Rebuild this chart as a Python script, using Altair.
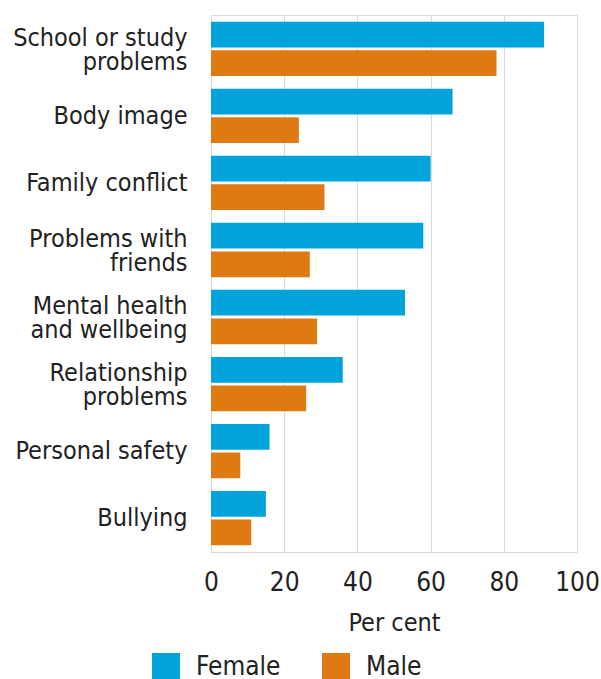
import altair as alt
import pandas as pd

categories = [
    "School or study|problems",
    "Body image",
    "Family conflict",
    "Problems with|friends",
    "Mental health|and wellbeing",
    "Relationship|problems",
    "Personal safety",
    "Bullying",
]
female = [91, 66, 60, 58, 53, 36, 16, 15]
male = [78, 24, 31, 27, 29, 26, 8, 11]
groups = ["Female", "Male"]
colors = ["#00A4DA", "#DF7A13"]

rows = []
for c, f, m in zip(categories, female, male):
    rows.append({"category": c, "sex": "Female", "value": f})
    rows.append({"category": c, "sex": "Male", "value": m})
df = pd.DataFrame(rows)

font = "DejaVu Sans Condensed"

chart = (
    alt.Chart(df)
    .mark_bar()
    .encode(
        y=alt.Y(
            "category:N",
            sort=categories,
            scale=alt.Scale(paddingInner=0.19, paddingOuter=0.1),
            axis=alt.Axis(
                title=None,
                labelExpr="split(datum.label, '|')",
                labelFont=font,
                labelFontSize=25,
                labelLineHeight=24,
                labelColor="#222222",
                labelPadding=24,
                labelOffset={
                    "condition": {"test": "indexof(datum.value, '|') >= 0", "value": -11},
                    "value": 0,
                },
                ticks=False,
                tickSize=0,
                domainColor="#d9d9d9",
                labelLimit=300,
            ),
        ),
        yOffset=alt.YOffset(
            "sex:N", sort=groups, scale=alt.Scale(paddingInner=0.1, paddingOuter=0)
        ),
        x=alt.X(
            "value:Q",
            scale=alt.Scale(domain=[0, 100]),
            axis=alt.Axis(
                title="Per cent",
                values=[0, 20, 40, 60, 80, 100],
                labelFont=font,
                labelFontSize=26,
                labelColor="#222222",
                labelBaseline="alphabetic",
                labelPadding=38,
                labelFlush=False,
                ticks=False,
                tickSize=0,
                grid=True,
                gridColor="#d9d9d9",
                domainColor="#d9d9d9",
                titleFont=font,
                titleFontSize=25,
                titleFontWeight="normal",
                titleColor="#222222",
                titleY=78,
                titleBaseline="alphabetic",
            ),
        ),
        color=alt.Color(
            "sex:N",
            sort=groups,
            scale=alt.Scale(domain=groups, range=colors),
            legend=alt.Legend(
                title=None,
                orient="none",
                direction="horizontal",
                legendX=-59,
                legendY=638,
                symbolType="square",
                symbolSize=784,
                symbolStrokeWidth=0,
                symbolOpacity=1,
                labelFont=font,
                labelFontSize=26,
                labelColor="#222222",
                labelOffset=16,
                columnPadding=41,
            ),
        ),
    )
    .properties(
        width=366,
        height=537,
        autosize=alt.AutoSizeParams(type="none"),
        padding={"left": 211, "top": 15, "right": 24, "bottom": 127},
    )
    .configure_view(stroke=None)
    .configure(background="white")
)

chart.save("out.html", embed_options={"renderer": "svg", "actions": False})
